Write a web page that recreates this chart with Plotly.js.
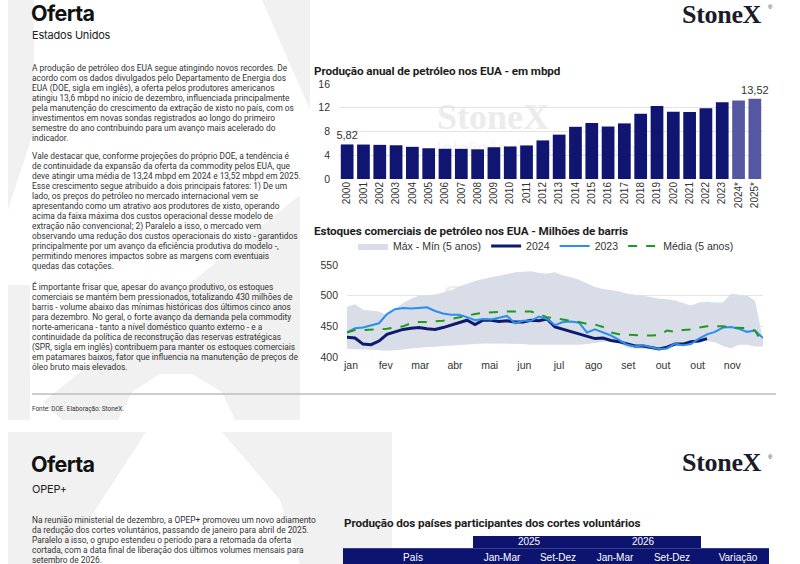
<!DOCTYPE html>
<html>
<head>
<meta charset="utf-8">
<script src="https://cdn.plot.ly/plotly-3.0.1.min.js"></script>
<style>
  html, body { margin:0; padding:0; background:#fff; }
  #page { position:relative; width:800px; height:564px; overflow:hidden; background:#fff; font-family:"Roboto","Inter",sans-serif; }
  .abs { position:absolute; white-space:nowrap; }
  .h1 { font-family:"Inter",sans-serif; font-weight:700; font-size:21.5px; line-height:18px; color:#111; letter-spacing:-0.6px; }
  .h2 { font-family:"Inter",sans-serif; font-size:11px; color:#222; letter-spacing:-0.2px; }
  .p  { font-family:"Roboto",sans-serif; font-size:8.4px; line-height:10px; color:#333; }
  .logo { font-family:"Liberation Serif","DejaVu Serif",serif; font-weight:700; font-size:26px; line-height:22px; color:#1b1b2b; letter-spacing:-0.3px; }
  .reg { font-family:"Liberation Sans",Arial,sans-serif; font-size:6px; line-height:7px; color:#1b1b2b; }
  .ctitle { font-family:"Roboto",sans-serif; font-weight:700; font-size:11.7px; line-height:14px; color:#1d1d1d; letter-spacing:-0.1px; }
  .wm { font-family:"Liberation Serif",serif; font-weight:700; color:#ececed; line-height:36px; }
  .wm2 { font-family:"Roboto",sans-serif; font-weight:300; color:#f0f0f1; line-height:20px; }
  #chart { position:absolute; left:0; top:0; width:800px; height:564px; }
  .th { position:absolute; background:#0d1470; color:#fff; font-family:"Liberation Sans",Arial,sans-serif; font-size:10px; }
  .th span { position:absolute; transform:translateX(-50%); white-space:nowrap; }
</style>
</head>
<body>
<div id="page">
  <svg class="abs" style="left:0;top:0" width="800" height="564">
    <g fill="#f1f1f1">
      <polygon points="8,0 34,0 34,130 8,210"/>
      <polygon points="262,0 310,0 310,110"/>
      <polygon points="8,285 30,285 30,420 8,420"/>
      <polygon points="300,195 300,420 235,420 222,392 192,374 160,374 132,392 118,420 62,420 43,402"/>
      <polygon points="8,432 146,432 60,564 8,564"/>
      <polygon points="222,432 392,432 392,564 300,564 280,500"/>
    </g>
    <line x1="32" y1="394" x2="776" y2="394" stroke="#bdbdbd" stroke-width="1.5"/>
  </svg>

  <!-- watermarks -->
  <div class="abs wm" style="left:437px;top:99px;font-size:36px;">StoneX</div>
  <div class="abs wm2" style="left:437px;top:139px;font-size:19px;">Inteligência de Mercado</div>
  <div class="abs wm" style="left:443px;top:280px;font-size:36px;">StoneX</div>
  <div class="abs wm2" style="left:443px;top:320px;font-size:19px;">Inteligência de Mercado</div>

  <div id="chart"></div>

  <!-- top page -->
  <div class="abs h1" style="left:31px;top:4px;">Oferta</div>
  <div class="abs h2" style="left:32px;top:28px;">Estados Unidos</div>
  <div class="abs logo" style="left:682px;top:3.5px;">StoneX</div>
  <div class="abs reg" style="left:768px;top:4px;">®</div>

  <div class="abs p" style="left:32px;top:63px;">A produção de petróleo dos EUA segue atingindo novos recordes. De<br>acordo com os dados divulgados pelo Departamento de Energia dos<br>EUA (DOE, sigla em inglês), a oferta pelos produtores americanos<br>atingiu 13,6 mbpd no início de dezembro, influenciada principalmente<br>pela manutenção do crescimento da extração de xisto no país, com os<br>investimentos em novas sondas registrados ao longo do primeiro<br>semestre do ano contribuindo para um avanço mais acelerado do<br>indicador.</div>
  <div class="abs p" style="left:32px;top:151px;">Vale destacar que, conforme projeções do próprio DOE, a tendência é<br>de continuidade da expansão da oferta da commodity pelos EUA, que<br>deve atingir uma média de 13,24 mbpd em 2024 e 13,52 mbpd em 2025.<br>Esse crescimento segue atribuído a dois principais fatores: 1) De um<br>lado, os preços do petróleo no mercado internacional vem se<br>apresentando como um atrativo aos produtores de xisto, operando<br>acima da faixa máxima dos custos operacional desse modelo de<br>extração não convencional; 2) Paralelo a isso, o mercado vem<br>observando uma redução dos custos operacionais do xisto - garantidos<br>principalmente por um avanço da eficiência produtiva do modelo -,<br>permitindo menores impactos sobre as margens com eventuais<br>quedas das cotações.</div>
  <div class="abs p" style="left:32px;top:282px;">É importante frisar que, apesar do avanço produtivo, os estoques<br>comerciais se mantém bem pressionados, totalizando 430 milhões de<br>barris - volume abaixo das mínimas históricas dos últimos cinco anos<br>para dezembro. No geral, o forte avanço da demanda pela commodity<br>norte-americana - tanto a nível doméstico quanto externo - e a<br>continuidade da política de reconstrução das reservas estratégicas<br>(SPR, sigla em inglês) contribuem para manter os estoques comerciais<br>em patamares baixos, fator que influencia na manutenção de preços de<br>óleo bruto mais elevados.</div>
  <div class="abs p" style="left:32px;top:404px;font-size:6.4px;">Fonte: DOE. Elaboração: StoneX.</div>

  <div class="abs ctitle" style="left:314px;top:64px;">Produção anual de petróleo nos EUA - em mbpd</div>
  <div class="abs ctitle" style="left:314px;top:224px;">Estoques comerciais de petróleo nos EUA - Milhões de barris</div>

  <!-- bottom page -->
  <div class="abs h1" style="left:31px;top:455px;">Oferta</div>
  <div class="abs h2" style="left:32px;top:482px;">OPEP+</div>
  <div class="abs logo" style="left:682px;top:452px;">StoneX</div>
  <div class="abs reg" style="left:768px;top:454px;">®</div>
  <div class="abs p" style="left:32px;top:515px;">Na reunião ministerial de dezembro, a OPEP+ promoveu um novo adiamento<br>da redução dos cortes voluntários, passando de janeiro para abril de 2025.<br>Paralelo a isso, o grupo estendeu o período para a retomada da oferta<br>cortada, com a data final de liberação dos últimos volumes mensais para<br>setembro de 2026.</div>
  <div class="abs ctitle" style="left:344px;top:516px;">Produção dos países participantes dos cortes voluntários</div>

  <div class="th" style="left:473px;top:536px;width:228px;height:12px;">
    <span style="left:56px;top:0px;">2025</span>
    <span style="left:170px;top:0px;">2026</span>
  </div>
  <div class="th" style="left:343px;top:548px;width:426px;height:16px;border-top:1px solid #3a3f8a;">
    <span style="left:70px;top:3px;">País</span>
    <span style="left:159px;top:3px;">Jan-Mar</span>
    <span style="left:215px;top:3px;">Set-Dez</span>
    <span style="left:272px;top:3px;">Jan-Mar</span>
    <span style="left:329px;top:3px;">Set-Dez</span>
    <span style="left:395px;top:3px;">Variação</span>
  </div>
</div>

<script>
// ---------- Produção anual (mbpd) ----------
const anos = ['2000','2001','2002','2003','2004','2005','2006','2007','2008','2009','2010','2011','2012',
              '2013','2014','2015','2016','2017','2018','2019','2020','2021','2022','2023','2024*','2025*'];
const producao = [5.82,5.80,5.75,5.68,5.42,5.18,5.09,5.08,5.00,5.35,5.48,5.65,6.50,
                  7.47,8.79,9.43,8.84,9.37,10.99,12.29,11.31,11.28,11.91,12.93,13.24,13.52];

// ---------- Estoques comerciais (milhões de barris), semanal ----------
const meses = ['jan','fev','mar','abr','mai','jun','jul','ago','set','out','out','nov'];
const maximo5 = [482,486,477,476,474,468,478,488,495,500,501,502,505,509,515,520,524,527,530,533,535,538,539,540,
                 537,536,538,533,530,526,520,514,511,509,507,503,502,500,498,495,494,492,488,484,489,490,489,489,
                 503,501,500,492,428];
const minimo5 = [413,413,413,412,411,410,411,413,414,415,416,417,418,419,420,421,421,422,422,422,422,421,421,420,
                 420,420,420,419,419,420,421,423,425,426,422,416,414,413,413,414,416,419,422,425,426,426,424,418,
                 414,420,420,417,417];
const estoque2024 = [432,431,421,420,426,437,441,445,447,448,446,445,448,452,457,460,453,460,460,458,459,457,457,460,
                     459,462,449,445,441,437,434,430,431,427,425,422,418,418,415,413,416,421,421,425,426,430];
const estoque2023 = [440,447,448,452,455,470,478,480,479,480,481,475,471,469,469,465,460,462,461,464,467,455,459,459,
                     466,462,452,457,458,456,440,445,440,435,428,420,417,419,416,413,414,422,419,421,430,437,441,448,
                     449,446,441,443,431];
const media5 = [440,444,444,444,445,446,448,450,455,457,457,458,459,462,465,468,470,472,473,474,474,474,474,474,
                470,465,463,461,460,457,454,453,449,440,437,436,436,435,435,436,443,441,444,445,448,450,450,450,
                448,448,447,443,422];

const W = 800, H = 564;
const px = v => v / W, py = v => 1 - v / H;

const semana = arr => arr.map((_, i) => i);
const fmt = v => v.toFixed(2).replace('.', ',');

const corBar = anos.map(a => a.endsWith('*') ? '#5558a0' : '#0f1570');
const rotulos = producao.map((v, i) => (i === 0 || i === producao.length - 1) ? fmt(v) : '');

const traces = [
  {
    type:'bar', x: anos, y: producao, xaxis:'x', yaxis:'y',
    marker:{color: corBar}, text: rotulos, textposition:'outside', cliponaxis:false, constraintext:'none',
    textfont:{family:'Liberation Sans, Arial', size:11, color:'#333'},
    hoverinfo:'skip', showlegend:false
  },
  {
    type:'scatter', mode:'lines', x: semana(minimo5), y: minimo5, xaxis:'x2', yaxis:'y2',
    line:{width:0, color:'#d8dde7'}, showlegend:false, hoverinfo:'skip'
  },
  {
    type:'scatter', mode:'lines', name:'Máx - Mín (5 anos)', x: semana(maximo5), y: maximo5, xaxis:'x2', yaxis:'y2',
    line:{width:0, color:'#d8dde7'}, fill:'tonexty', fillcolor:'#d8dde7', hoverinfo:'skip'
  },
  {
    type:'scatter', mode:'lines', name:'2024', x: semana(estoque2024), y: estoque2024, xaxis:'x2', yaxis:'y2',
    line:{width:3, color:'#0d1a6e'}
  },
  {
    type:'scatter', mode:'lines', name:'2023', x: semana(estoque2023), y: estoque2023, xaxis:'x2', yaxis:'y2',
    line:{width:2, color:'#2a8ff0'}
  },
  {
    type:'scatter', mode:'lines', name:'Média (5 anos)', x: semana(media5), y: media5, xaxis:'x2', yaxis:'y2',
    line:{width:2, color:'#1e9a1e', dash:'dash'}
  }
];

const tickFont = {family:'Liberation Sans, Arial', size:10.5, color:'#333'};
const layout = {
  width: W, height: H,
  margin:{l:0, r:0, t:0, b:0, pad:0},
  paper_bgcolor:'rgba(0,0,0,0)', plot_bgcolor:'rgba(0,0,0,0)',
  font: tickFont,
  bargap: 0.22,
  showlegend: true,
  legend:{orientation:'h', x: px(353), xanchor:'left', y: py(246), yanchor:'middle',
          font:{family:'Liberation Sans, Arial', size:10.5, color:'#333'}, bgcolor:'rgba(0,0,0,0)',
          itemwidth:30, traceorder:'normal'},
  xaxis:{domain:[px(339), px(763)], anchor:'y', type:'category', tickangle:-90,
         tickfont:{family:'Liberation Sans, Arial', size:10, color:'#333'}, showgrid:false, showline:false, ticks:'', fixedrange:true},
  yaxis:{domain:[py(179), py(84)], anchor:'x', range:[0,16], dtick:4, gridcolor:'#e4e4e4', gridwidth:1,
         zeroline:false, showline:false, ticks:'', tickfont:tickFont, ticklabelstandoff:8, fixedrange:true},
  xaxis2:{domain:[px(347), px(763)], anchor:'y2', range:[0,52],
          tickvals: meses.map((m, k) => 0.5 + k * 52 / 12), ticktext: meses,
          showgrid:false, zeroline:false, showline:false, ticks:'', tickfont:tickFont, fixedrange:true},
  yaxis2:{domain:[py(357), py(265)], anchor:'x2', range:[400,550], tickvals:[400,450,500,550],
          gridcolor:'#e4e4e4', zeroline:false, showline:false, ticks:'', tickfont:tickFont, ticklabelstandoff:8, fixedrange:true}
};

Plotly.newPlot('chart', traces, layout, {staticPlot:true, displayModeBar:false});
</script>
</body>
</html>
